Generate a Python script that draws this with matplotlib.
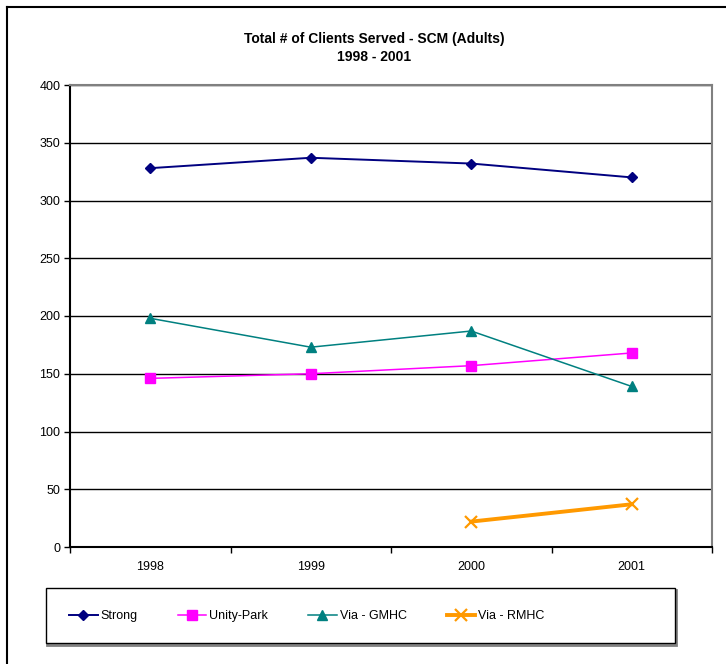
import numpy as np
import matplotlib
matplotlib.use('Agg')
import matplotlib.pyplot as plt
from matplotlib.patches import Rectangle
from matplotlib.lines import Line2D

plt.rcParams['font.family'] = ['Liberation Sans', 'DejaVu Sans']

# dados
years = ['1998', '1999', '2000', '2001']
strong = [328, 337, 332, 320]
unity_park = [146, 150, 157, 168]
via_gmhc = [198, 173, 187, 139]
via_rmhc = [np.nan, np.nan, 22, 37]

W, H = 726, 664
fig = plt.figure(figsize=(W / 100, H / 100), dpi=100)

# borda externa do gráfico (cortada à direita e embaixo)
fig.add_artist(Line2D([7 / W, 7 / W], [0, 1 - 7 / H], transform=fig.transFigure,
                      color='black', lw=1.5))
fig.add_artist(Line2D([7 / W, 1], [1 - 7 / H, 1 - 7 / H], transform=fig.transFigure,
                      color='black', lw=1.5))

ax = fig.add_axes([70 / W, 117 / H, 642 / W, 462 / H])
x = np.arange(len(years))

ax.plot(x, strong, color='#000080', lw=1.4, marker='D', ms=5.5, label='Strong')
ax.plot(x, unity_park, color='#FF00FF', lw=1.1, marker='s', ms=7, label='Unity-Park')
ax.plot(x, via_gmhc, color='#008080', lw=1.1, marker='^', ms=7.5, label='Via - GMHC')
ax.plot(x, via_rmhc, color='#FF9900', lw=2.8, marker='x', ms=9, mew=1.6, label='Via - RMHC')

ax.set_xlim(-0.5, 3.5)
ax.set_ylim(0, 400)
ax.set_yticks(range(0, 401, 50))
ax.set_xticks(x)
ax.set_xticklabels(years)
ax.set_xticks(np.arange(-0.5, 3.6, 1), minor=True)
ax.tick_params(axis='x', which='major', length=0, pad=10, labelsize=9)
ax.tick_params(axis='x', which='minor', length=4, direction='out', width=1)
ax.tick_params(axis='y', length=4, direction='out', width=1, pad=3, labelsize=9)

ax.yaxis.grid(True, color='black', lw=1)
ax.set_axisbelow(True)
for s in ['left', 'bottom']:
    ax.spines[s].set_color('black')
    ax.spines[s].set_linewidth(1.5)
for s in ['top', 'right']:
    ax.spines[s].set_color('#808080')
    ax.spines[s].set_linewidth(1.5)

fig.text(374 / W, 1 - 48 / H, 'Total # of Clients Served - SCM (Adults)\n1998 - 2001',
         ha='center', va='center', fontsize=10, fontweight='bold', linespacing=1.4)

# caixa da legenda
fig.add_artist(Rectangle((47 / W, (H - 645) / H), 629 / W, 55 / H, transform=fig.transFigure,
                         facecolor='none', edgecolor='#808080', lw=2))
fig.add_artist(Rectangle((46 / W, (H - 643) / H), 629 / W, 55 / H, transform=fig.transFigure,
                         facecolor='white', edgecolor='black', lw=1))

fig.legend(loc='center left', bbox_to_anchor=(69 / W, 1 - 616 / H), ncol=4, frameon=False,
           fontsize=9, handlelength=2.3, handletextpad=0.25, columnspacing=3.17,
           borderpad=0, borderaxespad=0)

plt.savefig('out.png', dpi=100)
